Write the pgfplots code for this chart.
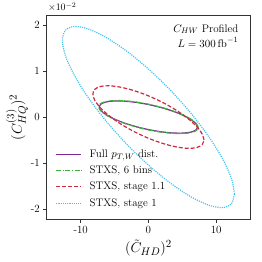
\documentclass[border=0pt]{standalone}
\usepackage{pgfplots}
\pgfplotsset{compat=1.18}
\definecolor{cpurple}{RGB}{130,40,150}
\definecolor{cgreen}{RGB}{60,180,60}
\definecolor{cred}{RGB}{205,40,60}
\definecolor{ccyan}{RGB}{60,195,240}
\begin{document}
\begin{tikzpicture}
\begin{axis}[
  name=ax,
  scale only axis,
  width=204pt, height=205pt,
  xmin=-15, xmax=15, ymin=-2.22, ymax=2.22,
  xtick={-10,0,10}, xticklabels={-10,0,10},
  ytick={-2,-1,0,1,2}, yticklabels={-2,-1,0,1,2},
  xtick pos=left, ytick pos=left, tick align=outside,
  major tick length=3.5pt,
  tick label style={font=\fontsize{11}{12}\selectfont},
  axis line style={black!80, line width=0.8pt},
  every tick/.style={black!80, line width=0.6pt},
  xlabel={$(\tilde{C}_{HD})^2$},
  ylabel={$(C^{(3)}_{HQ})^2$},
  label style={font=\fontsize{15}{17}\selectfont},
  xlabel style={yshift=1pt},
  ylabel style={yshift=-4pt},
  clip=false,
]
\addplot[color=cpurple, line width=1.2pt, smooth] coordinates {
(7.25,-0.22) (7.00,-0.142) (6.28,-0.055) (5.13,0.037) (3.63,0.126) (1.88,0.206)
(0,0.272) (-1.88,0.320) (-3.63,0.346) (-5.13,0.348) (-6.28,0.327) (-7.00,0.283)
(-7.25,0.22) (-7.00,0.142) (-6.28,0.055) (-5.13,-0.037) (-3.63,-0.126) (-1.88,-0.206)
(0,-0.272) (1.88,-0.320) (3.63,-0.346) (5.13,-0.348) (6.28,-0.327) (7.00,-0.283)
(7.25,-0.22)};
\addplot[color=cgreen, line width=1.2pt, smooth, dash pattern=on 5pt off 1.5pt on 1.2pt off 1.5pt] coordinates {
(7.35,-0.225) (7.10,-0.145) (6.37,-0.055) (5.20,0.039) (3.68,0.130) (1.90,0.212)
(0,0.28) (-1.90,0.329) (-3.68,0.355) (-5.20,0.357) (-6.37,0.335) (-7.10,0.290)
(-7.35,0.225) (-7.10,0.145) (-6.37,0.055) (-5.20,-0.039) (-3.68,-0.130) (-1.90,-0.212)
(0,-0.28) (1.90,-0.329) (3.68,-0.355) (5.20,-0.357) (6.37,-0.335) (7.10,-0.290)
(7.35,-0.225)};
\addplot[color=cred, line width=1.2pt, smooth, dash pattern=on 4pt off 2pt] coordinates {
(8.2,-0.50) (7.92,-0.364) (7.10,-0.203) (5.80,-0.028) (4.10,0.149) (2.12,0.316)
(0,0.461) (-2.12,0.574) (-4.10,0.649) (-5.80,0.680) (-7.10,0.664) (-7.92,0.602)
(-8.2,0.50) (-7.92,0.364) (-7.10,0.203) (-5.80,0.028) (-4.10,-0.149) (-2.12,-0.316)
(0,-0.461) (2.12,-0.574) (4.10,-0.649) (5.80,-0.680) (7.10,-0.664) (7.92,-0.602)
(8.2,-0.50)};
\addplot[color=ccyan, line width=1.2pt, smooth, dash pattern=on 1.1pt off 1.1pt] coordinates {
(12.7,-1.67) (12.27,-1.343) (11.00,-0.924) (8.98,-0.442) (6.35,0.070) (3.29,0.577)
(0,1.045) (-3.29,1.441) (-6.35,1.740) (-8.98,1.920) (-11.00,1.969) (-12.27,1.883)
(-12.7,1.67) (-12.27,1.343) (-11.00,0.924) (-8.98,0.442) (-6.35,-0.070) (-3.29,-0.577)
(0,-1.045) (3.29,-1.441) (6.35,-1.740) (8.98,-1.920) (11.00,-1.969) (12.27,-1.883)
(12.7,-1.67)};
% legend keys
\addplot[color=cpurple, line width=1.4pt] coordinates {(-13.6,-0.82) (-9.9,-0.82)};
\addplot[color=cgreen, line width=1.4pt, dash pattern=on 5pt off 1.5pt on 1.2pt off 1.5pt] coordinates {(-13.6,-1.167) (-9.9,-1.167)};
\addplot[color=cred, line width=1.4pt, dash pattern=on 4pt off 2pt] coordinates {(-13.6,-1.515) (-9.9,-1.515)};
\addplot[color=ccyan, line width=1.4pt, dash pattern=on 1.1pt off 1.1pt] coordinates {(-13.6,-1.875) (-9.9,-1.875)};
\begin{scope}[every node/.style={anchor=base west, inner sep=0pt, yshift=-3.2pt, font=\fontsize{11}{12}\selectfont}]
\node at (axis cs:-8.7,-0.82) {Full $p_{T,W}$ dist.};
\node at (axis cs:-8.7,-1.167) {STXS, 6 bins};
\node at (axis cs:-8.7,-1.515) {STXS, stage 1.1};
\node at (axis cs:-8.7,-1.875) {STXS, stage 1};
\end{scope}
\node[anchor=north east, align=right, font=\fontsize{11}{15}\selectfont] at (rel axis cs:0.96,0.97)
  {$C_{HW}$ Profiled\\ $L=300\,\mathrm{fb}^{-1}$};
\node[anchor=south west, font=\fontsize{10}{12}\selectfont, inner sep=1pt] at (rel axis cs:0,1.01) {$\times10^{-2}$};
\end{axis}
\pgfresetboundingbox
\path (ax.south west) ++(-47pt,-43pt) coordinate (bl);
\path (ax.north east) ++(11pt,15pt) coordinate (tr);
\path (bl) rectangle (tr);
\end{tikzpicture}
\end{document}
